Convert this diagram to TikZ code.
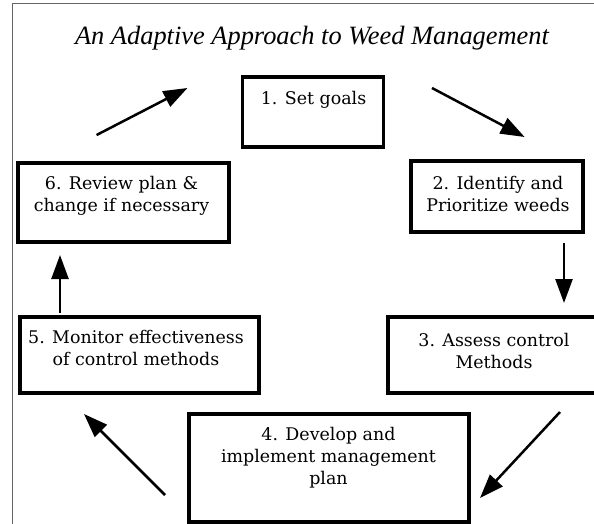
\documentclass[tikz,border=0pt]{standalone}
\usepackage{fontspec}
\usetikzlibrary{arrows.meta}
\newfontfamily\boxfont{DejaVu Serif}
\newfontfamily\titlefont{Liberation Serif}
\begin{document}
\begin{tikzpicture}[x=1bp,y=-1bp,
  stepbox/.style={draw=black,line width=3.5bp,rectangle,inner sep=0pt,fill=white},
  boxtext/.style={anchor=north,inner sep=0pt,align=center,font=\boxfont\fontsize{17.5}{22}\selectfont},
  flow/.style={line width=2.5bp,-{Triangle[length=24bp,width=17bp]}},
  frameline/.style={draw=black!60,line width=1bp}]
\useasboundingbox (0,0) rectangle (594,524);
% frame
\draw[frameline] (12,524) -- (12,4) -- (594,4);
% title
\node[anchor=base,inner sep=0pt,font=\titlefont\itshape\fontsize{26.5}{30}\selectfont] (title) at (312,45) {An Adaptive Approach to Weed Management};
% boxes
\node[stepbox,minimum width=141bp,minimum height=70bp] (b1) at (313,112) {};
\node[stepbox,minimum width=172bp,minimum height=71bp] (b2) at (497,196.5) {};
\node[stepbox,minimum width=214bp,minimum height=76bp] (b3) at (495,355) {};
\node[stepbox,minimum width=280bp,minimum height=108bp] (b4) at (329,468) {};
\node[stepbox,minimum width=239bp,minimum height=76bp] (b5) at (139.5,355) {};
\node[stepbox,minimum width=211bp,minimum height=79bp] (b6) at (123.5,202.5) {};
% texts
\node[boxtext] (t1) at (313.5,90) {\rule{0pt}{14bp}1. Set goals};
\node[boxtext] (t2) at (498,175) {\rule{0pt}{14bp}2. Identify and\\Prioritize weeds};
\node[boxtext] (t3) at (494,332) {\rule{0pt}{14bp}3. Assess control\\Methods};
\node[boxtext] (t4) at (328.5,426) {\rule{0pt}{14bp}4. Develop and\\implement management\\plan};
\node[boxtext] (t5) at (136,329) {\rule{0pt}{14bp}5. Monitor effectiveness\\of control methods};
\node[boxtext] (t6) at (121.5,175) {\rule{0pt}{14bp}6. Review plan \&\\change if necessary};
% arrow end points
\coordinate (a61s) at (96.6,135);  \coordinate (a61e) at (187.5,88);
\coordinate (a12s) at (432,88);    \coordinate (a12e) at (524.6,137);
\coordinate (a23s) at (564,243);   \coordinate (a23e) at (564,303);
\coordinate (a34s) at (560,412);   \coordinate (a34e) at (480,498);
\coordinate (a45s) at (165,495);   \coordinate (a45e) at (84,414);
\coordinate (a56s) at (60,313);    \coordinate (a56e) at (60,255);
\draw[flow] (a61s) -- (a61e);
\draw[flow] (a12s) -- (a12e);
\draw[flow] (a23s) -- (a23e);
\draw[flow] (a34s) -- (a34e);
\draw[flow] (a45s) -- (a45e);
\draw[flow] (a56s) -- (a56e);
\end{tikzpicture}
\end{document}
